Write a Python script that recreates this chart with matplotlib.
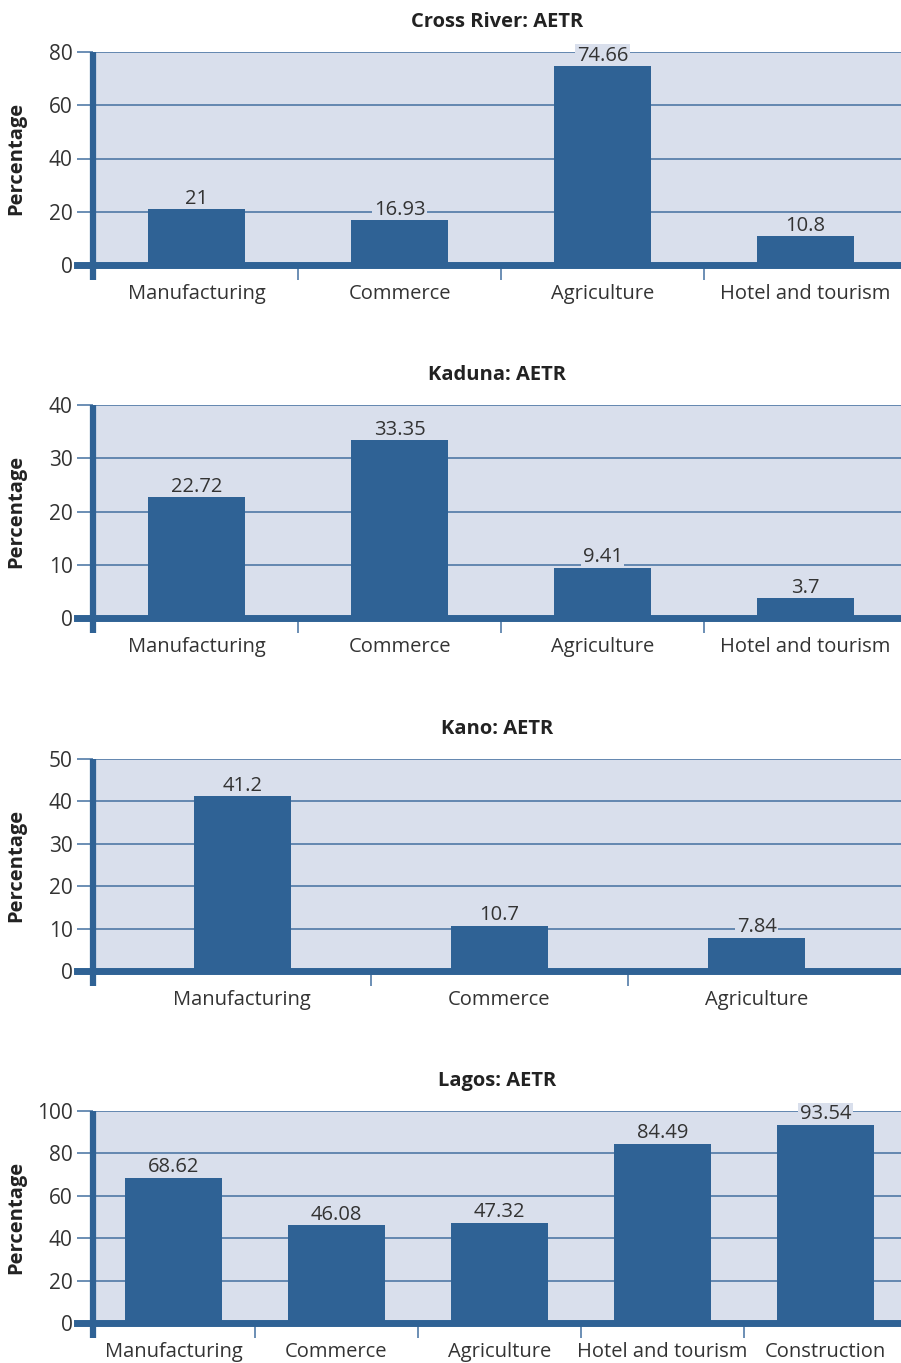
import matplotlib
matplotlib.use("Agg")
import matplotlib.pyplot as plt

plt.rcParams['font.family'] = ['Open Sans', 'DejaVu Sans']

# ---- data ----
cr_title = "Cross River: AETR"
cr_cats = ["Manufacturing", "Commerce", "Agriculture", "Hotel and tourism"]
cr_vals = [21, 16.93, 74.66, 10.8]
cr_ticks = [0, 20, 40, 60, 80]

kd_title = "Kaduna: AETR"
kd_cats = ["Manufacturing", "Commerce", "Agriculture", "Hotel and tourism"]
kd_vals = [22.72, 33.35, 9.41, 3.7]
kd_ticks = [0, 10, 20, 30, 40]

kn_title = "Kano: AETR"
kn_cats = ["Manufacturing", "Commerce", "Agriculture"]
kn_vals = [41.2, 10.7, 7.84]
kn_ticks = [0, 10, 20, 30, 40, 50]

lg_title = "Lagos: AETR"
lg_cats = ["Manufacturing", "Commerce", "Agriculture", "Hotel and tourism", "Construction"]
lg_vals = [68.62, 46.08, 47.32, 84.49, 93.54]
lg_ticks = [0, 20, 40, 60, 80, 100]

ylabel = "Percentage"

# ---- style ----
W, H = 901, 1363
DPI = 100
BAR = "#2f6295"
BG = "#d9dfec"
GRID = "#4470a0"
TXT = "#333333"

fig = plt.figure(figsize=(W / DPI, H / DPI), dpi=DPI)

# (title, cats, vals, ticks, top_px, zero_px, first category left px, category px)
panels = [
    (cr_title, cr_cats, cr_vals, cr_ticks, 52, 265, 95, 203),
    (kd_title, kd_cats, kd_vals, kd_ticks, 405, 618, 95, 203),
    (kn_title, kn_cats, kn_vals, kn_ticks, 759, 971, 113.5, 257.3),
    (lg_title, lg_cats, lg_vals, lg_ticks, 1111, 1323, 92, 163),
]

LEFT, RIGHT = 93, 901
EXT = 15
BAR_PX = 97

for title, cats, vals, ticks, top_px, zero_px, L0, S in panels:
    bot_px = zero_px + EXT
    ax = fig.add_axes([LEFT / W, 1 - bot_px / H, (RIGHT - LEFT) / W, (bot_px - top_px) / H])
    ymax = ticks[-1]
    ymin = -ymax * EXT / (zero_px - top_px)
    n = len(cats)
    ax.set_xlim(-0.5 - (L0 - LEFT) / S, -0.5 + (RIGHT - L0) / S)
    ax.set_ylim(ymin, ymax)
    ax.set_facecolor("white")
    for s in ax.spines.values():
        s.set_visible(False)
    ax.axhspan(0, ymax, color=BG, zorder=0, lw=0)
    for t in ticks[1:]:
        ax.axhline(t, color=GRID, lw=1.1, zorder=1)
    bw = BAR_PX / S
    xs = list(range(n))
    bars = ax.bar(xs, vals, width=bw, color=BAR, zorder=3)
    # background boxes behind labels (clipped to the plot area, under the bars)
    boxes = ax.bar_label(bars, fmt="%g", padding=0.3, fontsize=14.5, color=(0, 0, 0, 0),
                         zorder=2.5, bbox=dict(facecolor=BG, edgecolor="none", pad=1.2))
    for b in boxes:
        b.set_clip_on(True)
    ax.bar_label(bars, fmt="%g", padding=0.3, fontsize=14.5, color=TXT, zorder=5)
    # zero line (thick)
    ax.axhline(0, xmin=-16 / (RIGHT - LEFT), xmax=1, color=BAR, lw=5, zorder=4, clip_on=False)
    # left spine
    ax.plot([0, 0], [0, 1], transform=ax.transAxes, color=BAR, lw=4.5, zorder=4,
            clip_on=False, solid_capstyle="butt")
    # category separators
    ax.vlines([k + 0.5 for k in range(n - 1)], ymin, 0, color=GRID, lw=1.1, zorder=2)
    ax.set_yticks(ticks)
    ax.set_yticklabels([str(t) for t in ticks])
    ax.tick_params(axis="y", direction="out", length=11.5, width=1.1, color=GRID,
                   labelsize=15, labelcolor=TXT, pad=3)
    ax.set_xticks(xs)
    ax.set_xticklabels(cats)
    ax.tick_params(axis="x", length=0, labelsize=14.5, labelcolor=TXT, pad=3.2)
    fig.text((LEFT + RIGHT) / 2 / W, 1 - (top_px - 30) / H, title, ha="center", va="center",
             fontsize=14.5, fontweight="bold", color="#222222")
    fig.text(16 / W, 1 - ((top_px + zero_px) / 2) / H, ylabel, rotation=90, ha="center",
             va="center", fontsize=14.5, fontweight="bold", color="#222222")

fig.savefig("out.png", dpi=DPI)
